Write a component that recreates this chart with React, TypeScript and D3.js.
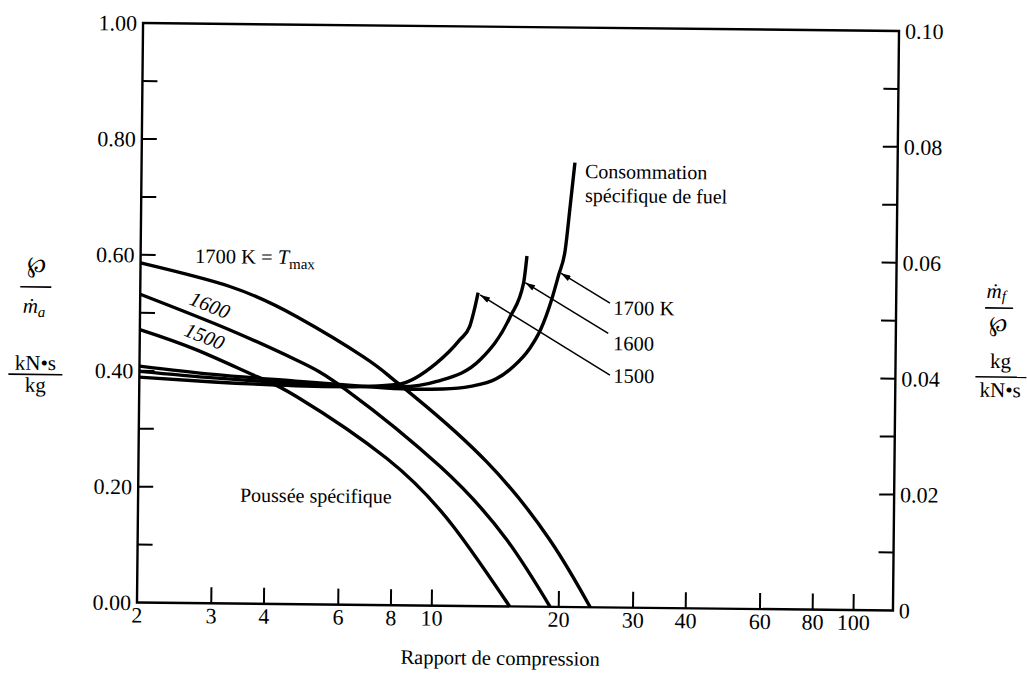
import React from "react";
import * as d3 from "d3";

type Pt = [number, number];

// Axis ticks and labels
const compressionTicks = [3, 4, 6, 8, 10, 20, 30, 40, 60, 80, 100];
const compressionLabels = [2, 3, 4, 6, 8, 10, 20, 30, 40, 60, 80, 100];
const thrustLabels = [0, 0.2, 0.4, 0.6, 0.8, 1.0];
const thrustTicks = [0.1, 0.2, 0.3, 0.4, 0.5, 0.6, 0.7, 0.8, 0.9];
const sfcLabels = [0, 0.02, 0.04, 0.06, 0.08, 0.1];

// Specific thrust (kN·s/kg) against compression ratio, per turbine inlet temperature
const thrust1700: Pt[] = [
  [2, 0.586], [3.26, 0.547], [4.71, 0.496], [6.79, 0.428], [7.86, 0.394],
  [9.11, 0.357], [13.39, 0.249], [19.0, 0.115], [23.75, 0],
];
const thrust1600: Pt[] = [
  [2, 0.532], [3.27, 0.472], [4.72, 0.421], [6.21, 0.37], [10.39, 0.24],
  [15.0, 0.115], [19.08, 0],
];
const thrust1500: Pt[] = [
  [2, 0.471], [2.73, 0.437], [3.8, 0.392], [4.73, 0.358], [7.76, 0.253],
  [11.2, 0.137], [15.3, 0],
];

// Specific fuel consumption (kg/kN·s) against compression ratio
const sfc1700: Pt[] = [
  [2, 0.0408], [3, 0.0395], [4.7, 0.0385], [6.5, 0.0378], [8.8, 0.0373],
  [10.5, 0.0374], [12.2, 0.0379], [14, 0.0392], [15.4, 0.0414], [16.8, 0.0445],
  [17.8, 0.0477], [18.9, 0.053], [19.6, 0.0572], [20.3, 0.0616], [20.8, 0.0691],
  [21.3, 0.0767],
];
const sfc1600: Pt[] = [
  [2, 0.0399], [3, 0.0389], [4.7, 0.0381], [6.5, 0.0377], [8.3, 0.0377],
  [10.15, 0.0387], [12.84, 0.0425], [15.09, 0.05], [16.2, 0.0558], [16.48, 0.0605],
];
const sfc1500: Pt[] = [
  [2, 0.0389], [3, 0.0382], [4.7, 0.0377], [6.3, 0.0376], [8.2, 0.0381],
  [10.1, 0.0418], [11.47, 0.0459], [12.1, 0.0482], [12.4, 0.0511], [12.65, 0.0541],
];

// Leader arrows naming the fuel-consumption curves
const sfcLeaders = [
  { label: "1700 K", head: [19.85, 0.0576] as Pt, tail: [26.0, 0.0525] as Pt, at: [26.5, 0.0505] as Pt },
  { label: "1600", head: [16.35, 0.0559] as Pt, tail: [25.8, 0.0473] as Pt, at: [26.5, 0.0444] as Pt },
  { label: "1500", head: [12.79, 0.0537] as Pt, tail: [26.1, 0.0401] as Pt, at: [26.6, 0.0388] as Pt },
];

const serif = "'Liberation Serif','Times New Roman',serif";

export default function App() {
  const L = 140, R = 896, T = 27, B = 606.5;
  const x = d3.scaleLog().domain([2, 124]).range([L, R]);
  const yL = d3.scaleLinear().domain([0, 1]).range([B, T]);
  const yR = d3.scaleLinear().domain([0, 0.1]).range([B, T]);
  const lineL = d3.line<Pt>().x((d) => x(d[0])).y((d) => yL(d[1])).curve(d3.curveNatural);
  const lineR = d3.line<Pt>().x((d) => x(d[0])).y((d) => yR(d[1])).curve(d3.curveMonotoneX);
  const fmtL = d3.format(".2f");
  const fmtR = (v: number) => (v === 0 ? "0" : d3.format(".2f")(v));
  const sfcTicks = d3.range(1, 10).map((i) => i / 100);

  const curveStyle = { fill: "none", stroke: "#000", strokeWidth: 3.4 };

  return (
    <svg
      width={1027}
      height={673}
      viewBox="0 0 1027 673"
      style={{ position: "absolute", left: 0, top: 0, background: "#fff" }}
    >
      <defs>
        <marker id="arrowHead" viewBox="0 0 10 6" refX="10" refY="3" markerWidth="11" markerHeight="6"
          markerUnits="userSpaceOnUse" orient="auto">
          <path d="M0,0 L10,3 L0,6 Z" fill="#000" />
        </marker>
      </defs>
      <rect x={0} y={0} width={1027} height={673} fill="#fff" />
      <g transform="rotate(0.6 518 317)" style={{ fontFamily: serif }} fill="#000">
        {/* frame */}
        <rect x={L} y={T} width={R - L} height={B - T} fill="none" stroke="#000" strokeWidth={2.4} />

        {/* left ticks */}
        {thrustTicks.map((v) => (
          <line key={"lt" + v} x1={L} x2={L + 15} y1={yL(v)} y2={yL(v)} stroke="#000" strokeWidth={2} />
        ))}
        {thrustLabels.map((v) => (
          <text key={"ll" + v} x={L - 6} y={yL(v)} dy="0.35em" textAnchor="end" fontSize={22}>
            {fmtL(v)}
          </text>
        ))}

        {/* right ticks */}
        {sfcTicks.map((v) => (
          <line key={"rt" + v} x1={R - 15} x2={R} y1={yR(v)} y2={yR(v)} stroke="#000" strokeWidth={2} />
        ))}
        {sfcLabels.map((v) => (
          <text key={"rl" + v} x={R + 6} y={yR(v)} dy="0.35em" textAnchor="start" fontSize={22}>
            {fmtR(v)}
          </text>
        ))}

        {/* bottom ticks */}
        {compressionTicks.map((v) => (
          <line key={"bt" + v} x1={x(v)} x2={x(v)} y1={B} y2={B - 16} stroke="#000" strokeWidth={2} />
        ))}
        {compressionLabels.map((v) => (
          <text key={"bl" + v} x={x(v)} y={B + 20} textAnchor="middle" fontSize={22}>
            {v}
          </text>
        ))}
        <text x={503.7} y={665} textAnchor="middle" fontSize={20.5}>
          Rapport de compression
        </text>

        {/* specific thrust curves */}
        <path d={lineL(thrust1700) || ""} style={curveStyle} />
        <path d={lineL(thrust1600) || ""} style={curveStyle} />
        <path d={lineL(thrust1500) || ""} style={curveStyle} />

        {/* fuel consumption curves */}
        <path d={lineR(sfc1700) || ""} style={curveStyle} />
        <path d={lineR(sfc1600) || ""} style={curveStyle} />
        <path d={lineR(sfc1500) || ""} style={curveStyle} />

        {/* leader arrows */}
        {sfcLeaders.map((a) => (
          <g key={a.label}>
            <line
              x1={x(a.tail[0])} y1={yR(a.tail[1])}
              x2={x(a.head[0])} y2={yR(a.head[1])}
              stroke="#000" strokeWidth={1.5} markerEnd="url(#arrowHead)"
            />
            <text x={x(a.at[0])} y={yR(a.at[1])} fontSize={20.5}>
              {a.label}
            </text>
          </g>
        ))}

        {/* curve annotations */}
        <text x={194.4} y={266.4} fontSize={20.5}>
          1700 K = <tspan fontStyle="italic">T</tspan>
          <tspan fontSize={15} dy={5}>max</tspan>
        </text>
        <text x={209.9} y={308.2} fontSize={20.5} fontStyle="italic" textAnchor="middle" dy="0.35em"
          transform="rotate(21 209.9 308.2)">
          1600
        </text>
        <text x={204.8} y={339.3} fontSize={20.5} fontStyle="italic" textAnchor="middle" dy="0.35em"
          transform="rotate(21 204.8 339.3)">
          1500
        </text>
        <text x={241.9} y={504.6} fontSize={20}>
          Poussée spécifique
        </text>
        <text x={583.5} y={177.3} fontSize={20}>
          Consommation
        </text>
        <text x={583.8} y={201.3} fontSize={20}>
          spécifique de fuel
        </text>

        {/* left axis quantity and unit */}
        <text x={36} y={277} textAnchor="middle" fontSize={23} style={{ fontFamily: "'DejaVu Serif',serif" }}>℘</text>
        <line x1={20} x2={51} y1={292} y2={292} stroke="#000" strokeWidth={1.6} />
        <text x={34} y={318} textAnchor="middle" fontSize={21} fontStyle="italic">
          ṁ<tspan fontSize={15} dy={4}>a</tspan>
        </text>
        <text x={36} y={375} textAnchor="middle" fontSize={21}>kN•s</text>
        <line x1={9} x2={63} y1={379.5} y2={379.5} stroke="#000" strokeWidth={1.6} />
        <text x={36} y={397} textAnchor="middle" fontSize={21}>kg</text>

        {/* right axis quantity and unit */}
        <text x={996} y={293} textAnchor="middle" fontSize={21} fontStyle="italic">
          ṁ<tspan fontSize={15} dy={3}>f</tspan>
        </text>
        <line x1={985} x2={1013} y1={303} y2={303} stroke="#000" strokeWidth={1.6} />
        <text x={998} y={326} textAnchor="middle" fontSize={22} style={{ fontFamily: "'DejaVu Serif',serif" }}>℘</text>
        <text x={1001} y={363} textAnchor="middle" fontSize={21}>kg</text>
        <line x1={976} x2={1027} y1={372} y2={372} stroke="#000" strokeWidth={1.6} />
        <text x={1001} y={392} textAnchor="middle" fontSize={21}>kN•s</text>
      </g>
    </svg>
  );
}
